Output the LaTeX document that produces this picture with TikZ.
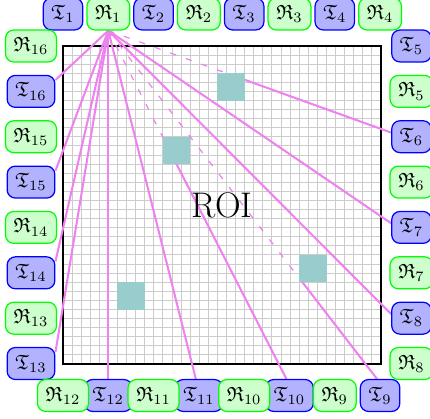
\documentclass[tikz,border=0pt]{standalone}
\usepackage{amssymb}
\usetikzlibrary{calc}
\definecolor{raypink}{RGB}{238,130,238}
\pgfdeclarelayer{gridlayer}
\pgfdeclarelayer{raylayer}
\pgfsetlayers{gridlayer,raylayer,main}
\begin{document}
\begin{tikzpicture}[x=0.4854pt,y=-0.4854pt,
  sensorbox/.style={rounded corners=4pt, line width=0.6pt, minimum height=15.5pt, inner xsep=4pt, inner ysep=3pt},
  txbox/.style={sensorbox, draw=blue, fill=blue!30},
  rxbox/.style={sensorbox, draw=green, fill=green!20},
  gridline/.style={gray!40, line width=0.5pt},
  roiframe/.style={black, line width=1.3pt},
  directray/.style={raypink, line width=1pt},
  blockedray/.style={raypink, line width=0.6pt, dash pattern=on 3pt off 5pt},
  blocker/.style={fill=teal!40, inner sep=0pt, minimum size=13.23pt}]
\useasboundingbox (0,0) rectangle (430,419);

% region of interest: 35 x 35 cells
\begin{pgfonlayer}{gridlayer}
\foreach \i in {0,...,35} {
  \draw[gridline] ({63+9.0857*\i},46) -- ({63+9.0857*\i},364);
  \draw[gridline] (63,{46+9.0857*\i}) -- (381,{46+9.0857*\i});
}
\draw[roiframe] (63,46) rectangle (381,364);
\end{pgfonlayer}

% obstacles inside the region
\node[blocker] (S1) at (231.1,86.9) {};
\node[blocker] (S2) at (176.6,150.5) {};
\node[blocker] (S3) at (312.9,268.6) {};
\node[blocker] (S4) at (131.1,295.9) {};
\node[font=\LARGE] (roi) at (222,205) {ROI};

% transmitters
\foreach \n/\x/\y in {1/63/14, 2/153.6/14, 3/244.2/14, 4/334.8/14,
    5/411.5/46, 6/411.5/136.7, 7/411.5/227.4, 8/411.5/318.2,
    9/380.1/395.5, 10/289.5/395.5, 11/198.9/395.5, 12/108.3/395.5,
    13/31/363.5, 14/31/272.8, 15/31/182.1, 16/31/91.4}
  \node[txbox] (T\n) at (\x,\y) {$\mathfrak{T}_{\n}$};

% receivers
\foreach \n/\x/\y in {1/108.3/14, 2/198.9/14, 3/289.5/14, 4/380.1/14,
    5/411.5/91.4, 6/411.5/182.1, 7/411.5/272.8, 8/411.5/363.5,
    9/334.8/395.5, 10/244.2/395.5, 11/153.6/395.5, 12/63/395.5,
    13/31/318.2, 14/31/227.4, 15/31/136.7, 16/31/46}
  \node[rxbox] (R\n) at (\x,\y) {$\mathfrak{R}_{\n}$};

% rays from receiver 1
\begin{pgfonlayer}{raylayer}
\foreach \n in {7,8}
  \draw[directray] (R1.south) -- ([yshift=2pt]T\n.west);
\draw[directray] (R1.south) -- ([xshift=-1.5pt]T11.north);
\draw[directray] (R1.south) -- (T12.north);
\foreach \n in {13,...,16}
  \draw[directray] (R1.south) -- ([yshift=-2.5pt]T\n.north east);

% rays crossing an obstacle: dashed before it, solid after it
\coordinate (e6) at ([yshift=2pt]T6.west);
\coordinate (e9) at ([xshift=-1.5pt]T9.north);
\coordinate (e10) at ([xshift=-1.5pt]T10.north);
\coordinate (h6) at ($(R1.south)!0.45!(e6)$);
\coordinate (h9) at ($(R1.south)!0.716!(e9)$);
\coordinate (h10) at ($(R1.south)!0.345!(e10)$);
\foreach \n in {6,9,10} {
  \draw[blockedray] (R1.south) -- (h\n);
  \draw[directray] (h\n) -- (e\n);
}
\end{pgfonlayer}
\end{tikzpicture}
\end{document}
